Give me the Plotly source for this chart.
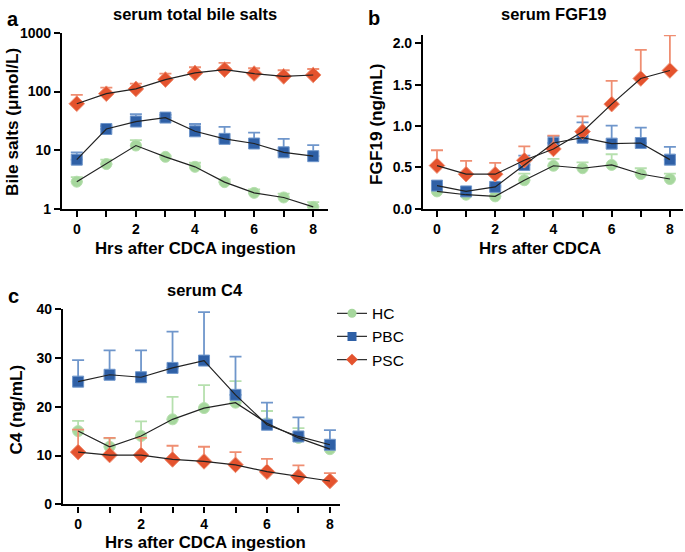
import plotly.graph_objects as go

hours = [0, 1, 2, 3, 4, 5, 6, 7, 8]
groups = ["HC", "PBC", "PSC"]

# panel a: serum total bile salts (umol/L) mean and upper error end
bs_hc = [2.9, 5.8, 12.0, 7.7, 5.2, 2.85, 1.87, 1.56, 1.08]
bs_hc_up = [3.47, 6.9, 14.8, 8.1, 6.1, 3.16, 2.14, 1.82, 1.3]
bs_pbc = [6.9, 23.0, 30.8, 36.0, 21.0, 15.6, 13.0, 9.2, 7.9]
bs_pbc_up = [9.2, 25.7, 41.0, 40.0, 28.0, 25.0, 20.0, 15.6, 12.2]
bs_psc = [62, 92, 111, 160, 208, 237, 203, 182, 192]
bs_psc_up = [88, 117, 137, 203, 260, 308, 250, 231, 243]

# panel b: serum FGF19 (ng/mL)
fgf_hc = [0.21, 0.17, 0.15, 0.345, 0.52, 0.49, 0.53, 0.42, 0.36]
fgf_hc_up = [0.23, 0.18, 0.16, 0.426, 0.602, 0.562, 0.659, 0.49, 0.426]
fgf_pbc = [0.28, 0.21, 0.265, 0.53, 0.795, 0.859, 0.787, 0.795, 0.594]
fgf_pbc_up = [0.30, 0.22, 0.28, 0.643, 0.876, 1.044, 1.004, 0.98, 0.747]
fgf_psc = [0.522, 0.418, 0.418, 0.586, 0.723, 0.932, 1.265, 1.574, 1.671]
fgf_psc_up = [0.707, 0.578, 0.554, 0.755, 0.884, 1.116, 1.546, 1.92, 2.096]

# panel c: serum C4 (ng/mL)
c4_hc = [15.0, 11.8, 14.0, 17.4, 19.7, 20.8, 16.6, 13.6, 11.3]
c4_hc_up = [17.1, 13.5, 17.0, 22.0, 24.4, 25.2, 19.1, 15.6, 12.1]
c4_pbc = [25.1, 26.5, 26.0, 27.9, 29.4, 22.4, 16.3, 13.9, 12.2]
c4_pbc_up = [29.5, 31.5, 31.5, 35.3, 39.3, 30.2, 20.8, 17.8, 15.2]
c4_psc = [10.7, 10.1, 10.1, 9.2, 8.8, 8.1, 6.7, 5.7, 4.8]
c4_psc_up = [15.3, 13.6, 13.6, 12.0, 11.8, 10.7, 9.3, 8.0, 6.4]

W, H = 685, 552
FONT = "Liberation Sans, Arial, sans-serif"

colors = {"HC": "#a6d79d", "PBC": "#2f60a6", "PSC": "#e4532e"}
err_colors = {"HC": "#b6e0ae", "PBC": "#6f96cb", "PSC": "#ef8e72"}
symbols = {"HC": "circle", "PBC": "square", "PSC": "diamond"}
sizes = {"HC": 11, "PBC": 11, "PSC": 12}

fig = go.Figure()

panels = [
    ("x", "y", [bs_hc, bs_pbc, bs_psc], [bs_hc_up, bs_pbc_up, bs_psc_up]),
    ("x2", "y2", [fgf_hc, fgf_pbc, fgf_psc], [fgf_hc_up, fgf_pbc_up, fgf_psc_up]),
    ("x3", "y3", [c4_hc, c4_pbc, c4_psc], [c4_hc_up, c4_pbc_up, c4_psc_up]),
]

for xa, ya, means, ups in panels:
    for g, m, u in zip(groups, means, ups):
        fig.add_trace(go.Scatter(
            x=hours, y=m, mode="markers", xaxis=xa, yaxis=ya, showlegend=False,
            marker=dict(symbol=symbols[g], size=sizes[g], color=colors[g],
                        line=dict(width=1, color=err_colors[g])),
            error_y=dict(type="data", symmetric=False,
                         array=[uu - mm for uu, mm in zip(u, m)],
                         arrayminus=[0] * len(m),
                         color=err_colors[g], thickness=1.8, width=6),
        ))
    for g, m in zip(groups, means):
        fig.add_trace(go.Scatter(
            x=hours, y=m, mode="lines", xaxis=xa, yaxis=ya, showlegend=False,
            line=dict(color="#222222", width=1.2), hoverinfo="skip",
        ))

for g in groups:
    fig.add_trace(go.Scatter(
        x=[None], y=[None], mode="lines+markers", name=g, xaxis="x3", yaxis="y3",
        marker=dict(symbol=symbols[g], size=9, color=colors[g]),
        line=dict(color="#333333", width=1.2),
    ))

def px(v):
    return min(1.0, v / W)

# the photographed page shows row y of the page at about 8 + 0.972*y
def py(v):
    page = max(0.0, (v - 8) / 0.972)
    return 1 - page / H

tick_text_x = ["0", "", "2", "", "4", "", "6", "", "8"]
axis_common = dict(showline=True, linecolor="black", linewidth=2.2, ticks="outside",
                   ticklen=6, tickwidth=2, tickcolor="black", showgrid=False,
                   zeroline=False, tickfont=dict(family=FONT, size=14, color="black", weight="bold"))

fig.update_layout(
    width=W, height=H, margin=dict(l=0, r=0, t=0, b=0),
    paper_bgcolor="white", plot_bgcolor="white",
    font=dict(family=FONT, color="black"),
    xaxis=dict(domain=[px(62), px(328)], range=[-0.5, 8.5], anchor="y",
               tickvals=hours, ticktext=tick_text_x, **axis_common),
    yaxis=dict(domain=[py(209), py(33)], type="log", range=[0, 3], anchor="x",
               tickvals=[1, 10, 100, 1000], ticktext=["1", "10", "100", "1000"], **axis_common),
    xaxis2=dict(domain=[px(423), px(683)], range=[-0.48, 8.45], anchor="y2",
                tickvals=hours, ticktext=tick_text_x, **axis_common),
    yaxis2=dict(domain=[py(209), py(35)], range=[0, 2.1], anchor="x2",
                tickvals=[0, 0.5, 1.0, 1.5, 2.0], ticktext=["0.0", "0.5", "1.0", "1.5", "2.0"],
                **axis_common),
    xaxis3=dict(domain=[px(63), px(340)], range=[-0.48, 8.32], anchor="y3",
                tickvals=hours, ticktext=tick_text_x, **axis_common),
    yaxis3=dict(domain=[py(505), py(309)], range=[0, 40], anchor="x3",
                tickvals=[0, 10, 20, 30, 40], **axis_common),
    legend=dict(x=px(332), y=py(297), xanchor="left", yanchor="top",
                font=dict(family=FONT, size=15.5, color="black"),
                bgcolor="rgba(0,0,0,0)", tracegroupgap=6, itemwidth=30),
)

def ann(text, x, y, size, bold=True, angle=0):
    fig.add_annotation(text=text, x=px(x), y=py(y), xref="paper", yref="paper",
                       showarrow=False, textangle=angle, xanchor="center", yanchor="middle",
                       font=dict(family=FONT, size=size, color="black",
                                 weight="bold" if bold else "normal"))

ann("serum total bile salts", 195, 14, 16.5)
ann("serum FGF19", 553, 14.5, 16.5)
ann("serum C4", 205, 290, 16.5)
ann("a", 13, 19.5, 20)
ann("b", 374, 18, 20)
ann("c", 13, 296, 20)
ann("Hrs after CDCA ingestion", 196, 249, 16.8)
ann("Hrs after CDCA", 540, 249, 16.8)
ann("Hrs after CDCA ingestion", 205, 543, 16.8)
ann("Bile salts (μmol/L)", 12, 122, 17.2, angle=-90)
ann("FGF19 (ng/mL)", 376, 125, 17.2, angle=-90)
ann("C4 (ng/mL)", 16, 410, 17.2, angle=-90)

fig.write_html(
    "out.html",
    config={"displayModeBar": False},
    post_script="document.body.style.margin='0';document.body.style.overflow='hidden';",
)
